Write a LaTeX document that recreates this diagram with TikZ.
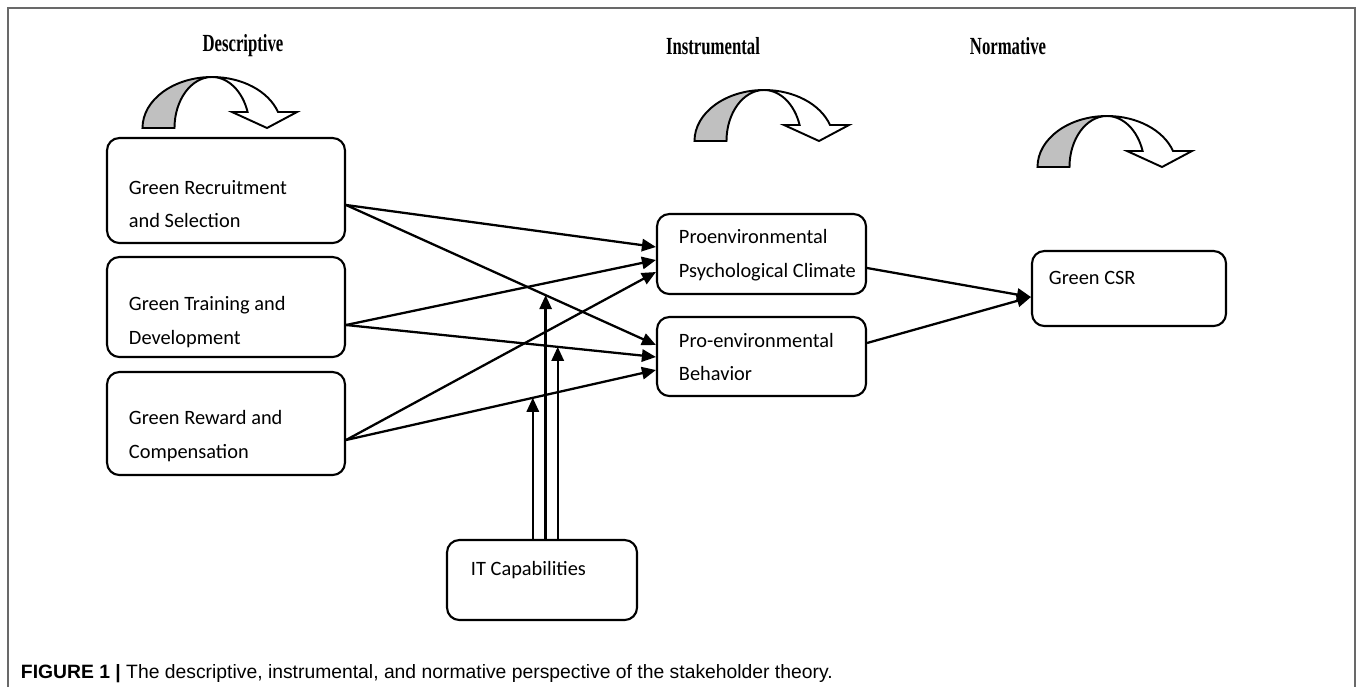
\documentclass[tikz,border=0pt]{standalone}
\usepackage{fontspec}
\setmainfont{Carlito}
\newfontfamily\headfont{Liberation Serif}
\newfontfamily\capfont{Liberation Sans}
\usetikzlibrary{arrows.meta,
                calc,
                positioning
                }
\definecolor{shade}{RGB}{192,192,192}
\definecolor{framegray}{RGB}{105,105,105}

\tikzset{
  bend arrow/.pic={
    \filldraw[fill=shade] (-124.5,0)
        arc[start angle=180, end angle=90, x radius=69.5, y radius=51]
        arc[start angle=90, end angle=180, x radius=37.5, y radius=51] -- cycle;
    \filldraw[fill=white] (-55,51)
        arc[start angle=90, end angle=18.3, x radius=69.5, y radius=51]
        -- (30,16) -- (0,0) -- (-35,16) -- (-19.4,16)
        arc[start angle=18.3, end angle=90, x radius=37.5, y radius=51] -- cycle;
  }
}

\begin{document}
\begin{tikzpicture}[
    x=0.02cm, y=-0.02cm,
    line width=1.1pt,
    box/.style = {draw, rounded corners=7pt, line width=1.2pt},
    lbl/.style = {anchor=west, align=left, inner sep=0pt,
                  font=\fontsize{11.6}{19}\selectfont},
    head/.style = {font=\headfont\bfseries\fontsize{14}{16}\selectfont},
    arr/.style = {-{Triangle[length=8pt, width=7pt]}, line width=1.3pt}
                    ]
\useasboundingbox (0,0) rectangle (1358,687);
\draw[framegray, line width=1.2pt] (8,687) -- (8,8) -- (1355,8) -- (1355,687);

% headings and bent arrows
\node (hdesc) [head] at (243,46) {\scalebox{0.68}[1]{Descriptive}};
\node (hinst) [head] at (713,46) {\scalebox{0.68}[1]{Instrumental}};
\node (hnorm) [head] at (1008,46) {\scalebox{0.68}[1]{Normative}};
\path (267,128) pic[yscale=-1] {bend arrow};
\path (819,141) pic[yscale=-1] {bend arrow};
\path (1162,167) pic[yscale=-1] {bend arrow};

% boxes
\node (rec)  [box, minimum width=47.6mm, minimum height=21mm]   at (226,190.5) {};
\node (trn)  [box, minimum width=47.6mm, minimum height=20mm]   at (226,307) {};
\node (rew)  [box, minimum width=47.6mm, minimum height=20.6mm] at (226,423.5) {};
\node (clim) [box, minimum width=41.8mm, minimum height=16mm]   at (761.5,254) {};
\node (beh)  [box, minimum width=41.8mm, minimum height=15.8mm] at (761.5,356.5) {};
\node (csr)  [box, minimum width=38.8mm, minimum height=15mm]   at (1129,288.5) {};
\node (itc)  [box, minimum width=38mm, minimum height=16mm]     at (542,580) {};

\node (rec-t)  [lbl] at (128,204)  {Green Recruitment\\and Selection};
\node (trn-t)  [lbl] at (128,322)  {Green Training and\\Development};
\node (rew-t)  [lbl] at (128,436)  {Green Reward and\\Compensation};
\node (clim-t) [lbl] at (678,255)  {Proenvironmental\\Psychological Climate};
\node (beh-t)  [lbl] at (678,357)  {Pro-environmental\\Behavior};
\node (csr-t)  [lbl] at (1048,278) {Green CSR};
\node (itc-t)  [lbl] at (470,570)  {IT Capabilities};

% links
\draw[arr] ($(rec.east)+(0,14.5)$) -- ($(clim.west)+(0,-7)$);
\draw[arr] ($(rec.east)+(0,14.5)$) -- ($(beh.west)+(0,-11.5)$) coordinate[pos=0.644] (m2);
\draw[arr] ($(trn.east)+(0,18)$)   -- ($(clim.west)+(0,6)$);
\draw[arr] ($(trn.east)+(0,18)$)   -- ($(beh.west)+(0,0.5)$) coordinate[pos=0.683] (m3);
\draw[arr] ($(rew.east)+(0,16.5)$) -- ($(clim.west)+(0,18)$);
\draw[arr] ($(rew.east)+(0,16.5)$) -- ($(beh.west)+(0,13.5)$) coordinate[pos=0.6026] (m1);
\draw[arr] ($(clim.east)+(0,14)$)  -- ($(csr.west)+(0,8.5)$);
\draw[arr] ($(beh.east)+(0,-13.5)$) -- ($(csr.west)+(0,8.5)$);

\draw[arr] (m1 |- itc.north) -- (m1);
\draw[arr] (m2 |- itc.north) -- (m2);
\draw[arr] (m3 |- itc.north) -- (m3);

\node (cap) [anchor=west, inner sep=0pt, font=\capfont\fontsize{11}{13}\selectfont]
    at (20,674) {\textbf{FIGURE 1 |} The descriptive, instrumental, and normative perspective of the stakeholder theory.};
\end{tikzpicture}
\end{document}
